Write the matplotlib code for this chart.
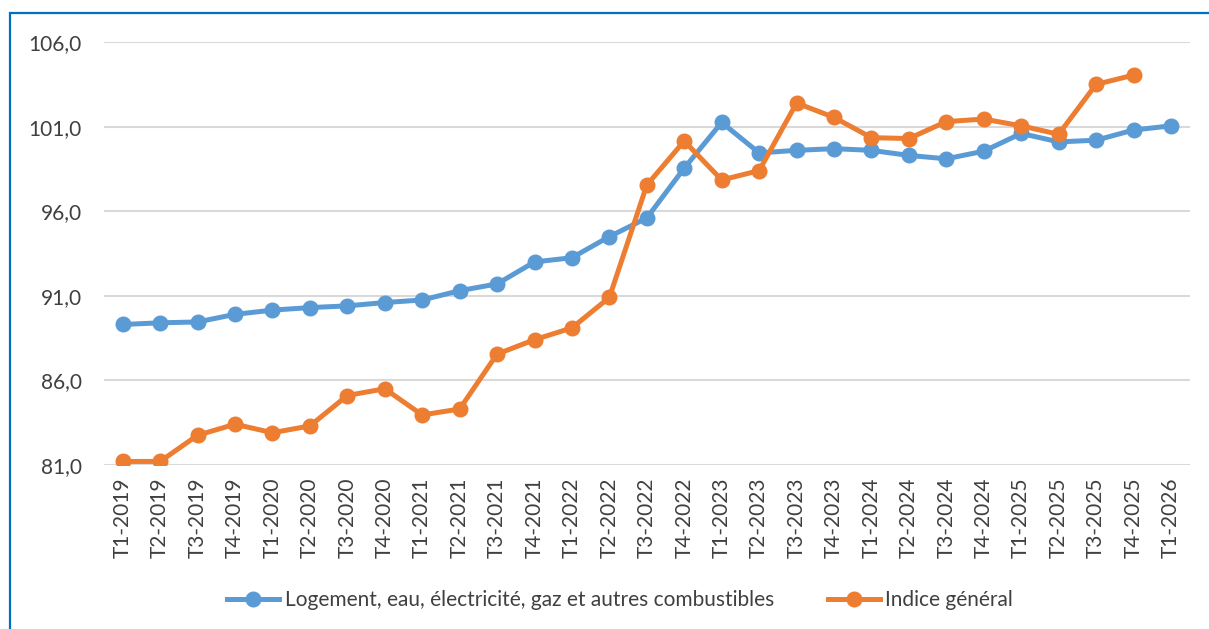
import matplotlib.pyplot as plt
from matplotlib.patches import Rectangle

# trimestres
periodes = ['T1-2019', 'T2-2019', 'T3-2019', 'T4-2019',
            'T1-2020', 'T2-2020', 'T3-2020', 'T4-2020',
            'T1-2021', 'T2-2021', 'T3-2021', 'T4-2021',
            'T1-2022', 'T2-2022', 'T3-2022', 'T4-2022',
            'T1-2023', 'T2-2023', 'T3-2023', 'T4-2023',
            'T1-2024', 'T2-2024', 'T3-2024', 'T4-2024',
            'T1-2025', 'T2-2025', 'T3-2025', 'T4-2025',
            'T1-2026']

logement = [89.3, 89.4, 89.45, 89.9, 90.15, 90.3, 90.4, 90.6,
            90.75, 91.3, 91.7, 93.0, 93.25, 94.5, 95.6, 98.55,
            101.25, 99.45, 99.6, 99.7, 99.6, 99.3, 99.1, 99.55,
            100.6, 100.1, 100.2, 100.8, 101.05]

indice_general = [81.2, 81.2, 82.75, 83.4, 82.9, 83.3, 85.1, 85.5,
                  83.95, 84.3, 87.55, 88.4, 89.1, 90.9, 97.55, 100.15,
                  97.85, 98.4, 102.4, 101.55, 100.35, 100.3, 101.3, 101.45,
                  101.05, 100.55, 103.5, 104.05]

bleu = '#5B9BD5'
orange = '#ED7D31'
gris_txt = '#404040'

plt.rcParams['font.family'] = ['Lato', 'DejaVu Sans']

fig = plt.figure(figsize=(12.09, 6.29), dpi=100)
ax = fig.add_axes([0.086, 0.261, 0.898, 0.672])

x1 = list(range(len(logement)))
x2 = list(range(len(indice_general)))
ax.plot(x1, logement, color=bleu, lw=3.6, marker='o', ms=10.5,
        label='Logement, eau, électricité, gaz et autres combustibles')
ax.plot(x2, indice_general, color=orange, lw=3.6, marker='o', ms=10.5,
        label='Indice général')

ax.set_xlim(-0.5, len(periodes) - 0.5)
ax.set_ylim(81, 106)
yt = [81, 86, 91, 96, 101, 106]
ax.set_yticks(yt)
ax.set_yticklabels([f'{v:.1f}'.replace('.', ',') for v in yt])
ax.set_xticks(range(len(periodes)))
ax.set_xticklabels(periodes, rotation=90)
ax.tick_params(axis='both', length=0, labelsize=15, colors=gris_txt)
ax.tick_params(axis='y', pad=16)
ax.tick_params(axis='x', pad=9)
ax.grid(axis='y', color='#d9d9d9', lw=1.5)
ax.set_axisbelow(True)
for s in ax.spines.values():
    s.set_visible(False)

leg = fig.legend(loc='center', bbox_to_anchor=(0.513, 0.046), ncol=2,
                 frameon=False, fontsize=15, handlelength=2.5,
                 columnspacing=2.6, handletextpad=0.25)
for t in leg.get_texts():
    t.set_color(gris_txt)

# cadre bleu
fig.patches.append(Rectangle((10 / 1209, -0.5), 2, 0.5 + 1 - 12.5 / 629,
                             transform=fig.transFigure, fill=False,
                             edgecolor='#0070C0', lw=1.6))

fig.savefig('out.png', dpi=100)
